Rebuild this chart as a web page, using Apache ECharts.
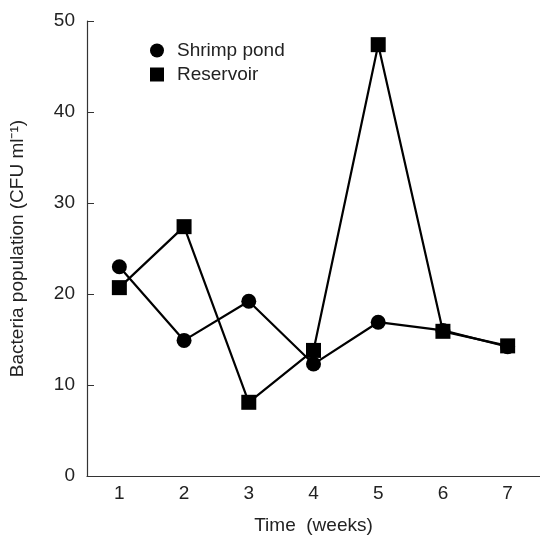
<!DOCTYPE html>
<html>
<head>
<meta charset="utf-8">
<script src="https://cdn.jsdelivr.net/npm/echarts@6/dist/echarts.min.js"></script>
<style>
  html, body { margin: 0; padding: 0; background: #fff; }
  #chart { width: 540px; height: 540px; }
</style>
</head>
<body>
<div id="chart"></div>
<script>
// data
const weeks = ['1', '2', '3', '4', '5', '6', '7'];
const shrimpPond = [23.0, 14.9, 19.2, 12.3, 16.9, 16.0, 14.2];
const reservoir = [20.7, 27.4, 8.1, 13.8, 47.4, 15.9, 14.3];

const font = 'Liberation Sans, Arial, sans-serif';
const ink = '#222';

let myChart = echarts.init(document.getElementById('chart'));

let option = {
  animation: false,
  textStyle: { fontFamily: font },
  legend: {
    orient: 'vertical',
    left: 145,
    top: 36,
    itemWidth: 14,
    itemHeight: 14,
    itemGap: 5,
    textStyle: { fontSize: 19, color: ink, fontFamily: font, padding: [0, 0, 0, 8] },
    data: [
      { name: 'Shrimp pond', icon: 'circle' },
      { name: 'Reservoir', icon: 'rect' }
    ]
  },
  grid: {
    left: 87,
    top: 21,
    width: 459,
    height: 456
  },
  xAxis: {
    type: 'category',
    data: weeks,
    boundaryGap: true,
    name: 'Time  (weeks)',
    nameLocation: 'middle',
    nameGap: 40,
    nameTextStyle: { fontSize: 19, color: ink, fontFamily: font },
    axisLine: { lineStyle: { color: '#333', width: 1.2 } },
    axisTick: { inside: true, length: 7, lineStyle: { color: '#333' } },
    axisLabel: { fontSize: 19, color: ink, margin: 8, fontFamily: font },
    splitLine: { show: false }
  },
  yAxis: {
    type: 'value',
    min: 0,
    max: 50,
    interval: 10,
    name: 'Bacteria population (CFU ml\u207B\u00B9)',
    nameLocation: 'middle',
    nameGap: 60,
    nameTextStyle: { fontSize: 19, color: ink, fontFamily: font },
    axisLine: { show: true, lineStyle: { color: '#333', width: 1.2 } },
    axisTick: { show: true, inside: true, length: 7, lineStyle: { color: '#333' } },
    axisLabel: { fontSize: 19, color: ink, margin: 12, fontFamily: font },
    splitLine: { show: false }
  },
  series: [
    {
      name: 'Shrimp pond',
      type: 'line',
      data: shrimpPond,
      symbol: 'circle',
      symbolSize: 15,
      itemStyle: { color: '#000' },
      lineStyle: { color: '#000', width: 2.2 }
    },
    {
      name: 'Reservoir',
      type: 'line',
      data: reservoir,
      symbol: 'rect',
      symbolSize: 15,
      itemStyle: { color: '#000' },
      lineStyle: { color: '#000', width: 2.2 }
    }
  ]
};

myChart.setOption(option);
</script>
</body>
</html>
